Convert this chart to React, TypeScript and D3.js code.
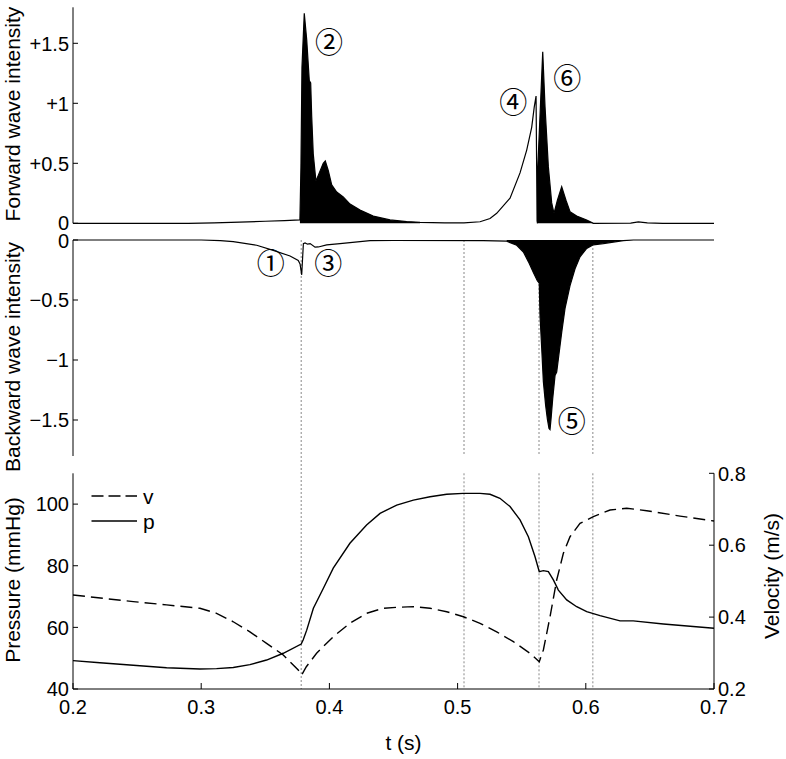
import React from 'react';
import * as d3 from 'd3';

// ---------- data ----------
const forwardWave: [number, number][] = [
  [0.2, 0], [0.29, 0], [0.31, 0.004], [0.33, 0.01], [0.35, 0.017], [0.365, 0.022], [0.377, 0.028],
  [0.3778, 0.47], [0.3786, 1.3], [0.3804, 1.75], [0.3823, 1.53], [0.3843, 1.19], [0.3854, 1.17],
  [0.3862, 0.89], [0.3874, 0.58], [0.3895, 0.35], [0.3921, 0.42], [0.3952, 0.5], [0.3968, 0.52],
  [0.3991, 0.44], [0.4018, 0.32], [0.4057, 0.26], [0.4108, 0.22], [0.4161, 0.16], [0.4239, 0.11],
  [0.4342, 0.06], [0.4473, 0.028], [0.4603, 0.014], [0.4707, 0.008], [0.49, 0.003], [0.505, 0.003],
  [0.5175, 0.013], [0.5253, 0.04], [0.5305, 0.083], [0.5409, 0.21], [0.5487, 0.42], [0.5539, 0.61],
  [0.5578, 0.8], [0.5598, 0.97], [0.5612, 1.06], [0.5620, 0.02], [0.5623, 0.0], [0.5625, 0.45],
  [0.5664, 1.43], [0.5682, 0.97], [0.5708, 0.47], [0.5734, 0.17], [0.5752, 0.083], [0.5778, 0.19],
  [0.5812, 0.305], [0.5846, 0.19], [0.5877, 0.097], [0.5929, 0.06], [0.6007, 0.028], [0.6059, 0.0],
  [0.635, 0.002], [0.641, 0.012], [0.648, 0.003], [0.66, 0], [0.7, 0],
];

const backwardWave: [number, number][] = [
  [0.2, 0], [0.3, 0], [0.315, -0.005], [0.325, -0.014], [0.3433, -0.044], [0.3562, -0.086],
  [0.3693, -0.133], [0.3757, -0.17], [0.3771, -0.2], [0.3784, -0.29], [0.3797, -0.03],
  [0.381, -0.025], [0.383, -0.035], [0.385, -0.03], [0.3888, -0.06], [0.3914, -0.058],
  [0.3979, -0.04], [0.4083, -0.03], [0.4317, -0.005], [0.45, -0.004], [0.52, -0.005],
  [0.5383, -0.01], [0.5461, -0.044], [0.5513, -0.1], [0.5552, -0.18], [0.5591, -0.27],
  [0.5622, -0.34], [0.5637, -0.36], [0.5643, -0.63], [0.5656, -0.9], [0.5669, -1.18],
  [0.5687, -1.38], [0.57, -1.49], [0.5713, -1.57], [0.5721, -1.58], [0.5729, -1.49],
  [0.5742, -1.32], [0.576, -1.13], [0.5773, -1.1], [0.5786, -0.99], [0.5812, -0.77],
  [0.5838, -0.57], [0.5877, -0.38], [0.5916, -0.24], [0.5955, -0.14], [0.6007, -0.07],
  [0.6059, -0.04], [0.6137, -0.03], [0.6215, -0.017], [0.6293, -0.005], [0.6371, 0], [0.7, 0],
];

const pressure: [number, number][] = [
  [0.2, 49.2], [0.221, 48.5], [0.247, 47.7], [0.273, 46.9], [0.299, 46.5], [0.312, 46.6],
  [0.325, 47.0], [0.338, 47.9], [0.351, 49.4], [0.364, 51.6], [0.378, 54.6], [0.3795, 55.9],
  [0.3823, 59.1], [0.3875, 66.2], [0.3953, 72.7], [0.403, 79.2], [0.416, 87.3], [0.429, 93.2],
  [0.4395, 97.0], [0.4525, 99.7], [0.4655, 101.3], [0.4785, 102.4], [0.4915, 103.2],
  [0.5045, 103.5], [0.5175, 103.5], [0.5253, 103.2], [0.533, 101.9], [0.5409, 99.2],
  [0.5487, 94.9], [0.5552, 89.4], [0.5604, 82.9], [0.5637, 78.1], [0.5669, 78.4], [0.5708, 78.1],
  [0.5747, 75.4], [0.5786, 72.1], [0.5851, 68.9], [0.5929, 66.7], [0.6007, 65.1], [0.6111, 63.8],
  [0.6267, 62.1], [0.637, 62.1], [0.6605, 61.1], [0.7, 59.7],
];

const velocity: [number, number][] = [
  [0.2, 0.4615], [0.247, 0.443], [0.273, 0.434], [0.299, 0.4245], [0.312, 0.4106], [0.325, 0.387],
  [0.338, 0.359], [0.351, 0.327], [0.364, 0.2946], [0.3757, 0.2528], [0.3784, 0.2389],
  [0.382, 0.262], [0.39, 0.2993], [0.403, 0.3455], [0.416, 0.3828], [0.429, 0.4106],
  [0.442, 0.4245], [0.4525, 0.4273], [0.4655, 0.429], [0.4785, 0.4245], [0.4915, 0.415],
  [0.5045, 0.401], [0.5175, 0.3828], [0.5305, 0.359], [0.5435, 0.3316], [0.5565, 0.2993],
  [0.5637, 0.276], [0.5669, 0.3085], [0.5721, 0.401], [0.5773, 0.5032], [0.5825, 0.5774],
  [0.5877, 0.6236], [0.5955, 0.6609], [0.6059, 0.6793], [0.6189, 0.6979], [0.6319, 0.7026],
  [0.6475, 0.696], [0.6735, 0.681], [0.7, 0.6673],
];

const forwardFills: [number, number][] = [[0.377, 0.48], [0.5623, 0.62]];
const backwardFills: [number, number][] = [[0.535, 0.64]];
const markerTimes = [0.378, 0.505, 0.5635, 0.6055];

const timeTicks = [0.2, 0.3, 0.4, 0.5, 0.6, 0.7];
const timeTickLabels = ['0.2', '0.3', '0.4', '0.5', '0.6', '0.7'];
const fwdTicks = [0, 0.5, 1, 1.5];
const fwdTickLabels = ['0', '+0.5', '+1', '+1.5'];
const bwdTicks = [0, -0.5, -1, -1.5];
const bwdTickLabels = ['0', '\u22120.5', '\u22121', '\u22121.5'];
const pTicks = [40, 60, 80, 100];
const vTicks = [0.2, 0.4, 0.6, 0.8];
const vTickLabels = ['0.2', '0.4', '0.6', '0.8'];

const fwdNotes = [
  { label: '\u2461', t: 0.3997, v: 1.5 },
  { label: '\u2463', t: 0.5435, v: 1.005 },
  { label: '\u2465', t: 0.5856, v: 1.2 },
];
const bwdNotes = [
  { label: '\u2460', t: 0.3542, v: -0.1975 },
  { label: '\u2462', t: 0.3991, v: -0.1975 },
  { label: '\u2464', t: 0.589, v: -1.517 },
];

const FONT = '"Liberation Sans", Arial, Helvetica, sans-serif';
const NOTE_FONT = '"DejaVu Serif", "Noto Sans CJK JP", serif';

export default function App() {
  const x = d3.scaleLinear().domain([0.2, 0.7]).range([73, 714]);
  const yF = d3.scaleLinear().domain([0, 1.8]).range([223.3, 7.3]);
  const yB = d3.scaleLinear().domain([-1.8, 0]).range([456, 240]);
  const yP = d3.scaleLinear().domain([40, 110]).range([689, 473.3]);
  const yV = d3.scaleLinear().domain([0.2, 0.8]).range([689, 473.3]);

  const lineOf = (ys: d3.ScaleLinear<number, number>) =>
    d3.line<[number, number]>().x((d) => x(d[0])).y((d) => ys(d[1]));
  const areaOf = (ys: d3.ScaleLinear<number, number>) =>
    d3.area<[number, number]>().x((d) => x(d[0])).y0(ys(0)).y1((d) => ys(d[1]));

  const fill = (data: [number, number][], [a, b]: [number, number]) =>
    data.filter((d) => d[0] >= a && d[0] <= b);

  const tickLen = 5;
  const fs = 20;
  const lfs = 21;
  const nfs = 28;

  return (
    <svg width={786} height={759} style={{ position: 'absolute', left: 0, top: 0, background: '#fff' }}
      fontFamily={FONT}>
      <rect x={0} y={0} width={786} height={759} fill="#fff" />

      {/* dotted marker lines */}
      <g stroke="#888" strokeWidth={1} strokeDasharray="2,2">
        <line x1={x(markerTimes[0])} x2={x(markerTimes[0])} y1={240} y2={689} />
        {markerTimes.slice(1).map((t, i) => (
          <g key={i}>
            <line x1={x(t)} x2={x(t)} y1={240} y2={456} />
            <line x1={x(t)} x2={x(t)} y1={473.3} y2={689} />
          </g>
        ))}
      </g>

      {/* ---- forward panel ---- */}
      {forwardFills.map((iv, i) => (
        <path key={i} d={areaOf(yF)(fill(forwardWave, iv)) || ''} fill="#000" />
      ))}
      <path d={lineOf(yF)(forwardWave) || ''} fill="none" stroke="#000" strokeWidth={1.2} />
      <line x1={73} x2={73} y1={yF(1.8)} y2={yF(0)} stroke="#000" strokeWidth={1} />
      {fwdTicks.map((v, i) => (
        <g key={i}>
          <line x1={73} x2={73 + tickLen} y1={yF(v)} y2={yF(v)} stroke="#000" />
          <text x={69} y={yF(v) - (v === 0 ? 1 : 0)} dy="0.36em" textAnchor="end" fontSize={fs}>{fwdTickLabels[i]}</text>
        </g>
      ))}
      <text transform={`translate(19.5,${114}) rotate(-90)`} textAnchor="middle" fontSize={lfs}>Forward wave intensity</text>
      {fwdNotes.map((n, i) => (
        <text key={i} x={x(n.t)} y={yF(n.v)} dy="0.36em" textAnchor="middle" fontSize={nfs} fontFamily={NOTE_FONT}>{n.label}</text>
      ))}

      {/* ---- backward panel ---- */}
      {backwardFills.map((iv, i) => (
        <path key={i} d={areaOf(yB)(fill(backwardWave, iv)) || ''} fill="#000" />
      ))}
      <path d={lineOf(yB)(backwardWave) || ''} fill="none" stroke="#000" strokeWidth={1.2} />
      <line x1={73} x2={73} y1={yB(0)} y2={yB(-1.8)} stroke="#000" strokeWidth={1} />
      {bwdTicks.map((v, i) => (
        <g key={i}>
          <line x1={73} x2={73 + tickLen} y1={yB(v)} y2={yB(v)} stroke="#000" />
          <text x={69} y={yB(v) + (v === 0 ? 1 : 0)} dy="0.36em" textAnchor="end" fontSize={fs}>{bwdTickLabels[i]}</text>
        </g>
      ))}
      <text transform={`translate(19.5,${357}) rotate(-90)`} textAnchor="middle" fontSize={lfs}>Backward wave intensity</text>
      {bwdNotes.map((n, i) => (
        <text key={i} x={x(n.t)} y={yB(n.v)} dy="0.36em" textAnchor="middle" fontSize={nfs} fontFamily={NOTE_FONT}>{n.label}</text>
      ))}

      {/* ---- pressure / velocity panel ---- */}
      <path d={lineOf(yV)(velocity) || ''} fill="none" stroke="#000" strokeWidth={1.4} strokeDasharray="12,6" />
      <path d={lineOf(yP)(pressure) || ''} fill="none" stroke="#000" strokeWidth={1.4} />
      <line x1={73} x2={73} y1={yP(110)} y2={yP(40)} stroke="#000" />
      <line x1={714} x2={714} y1={yV(0.8)} y2={yV(0.2)} stroke="#000" />
      <line x1={73} x2={714} y1={689} y2={689} stroke="#000" />
      {pTicks.map((v, i) => (
        <g key={i}>
          <line x1={73} x2={73 + tickLen} y1={yP(v)} y2={yP(v)} stroke="#000" />
          <text x={69} y={yP(v)} dy="0.36em" textAnchor="end" fontSize={fs}>{v}</text>
        </g>
      ))}
      {vTicks.map((v, i) => (
        <g key={i}>
          <line x1={714} x2={714 - tickLen} y1={yV(v)} y2={yV(v)} stroke="#000" />
          <text x={718} y={yV(v)} dy="0.36em" textAnchor="start" fontSize={fs}>{vTickLabels[i]}</text>
        </g>
      ))}
      {timeTicks.map((t, i) => (
        <g key={i}>
          <line x1={x(t)} x2={x(t)} y1={689} y2={689 - tickLen - 1} stroke="#000" />
          <text x={x(t)} y={714} textAnchor="middle" fontSize={fs}>{timeTickLabels[i]}</text>
        </g>
      ))}
      <text transform={`translate(19.5,${580}) rotate(-90)`} textAnchor="middle" fontSize={lfs}>Pressure (mmHg)</text>
      <text transform={`translate(779,${576}) rotate(-90)`} textAnchor="middle" fontSize={lfs}>Velocity (m/s)</text>
      <text x={403.5} y={750} textAnchor="middle" fontSize={lfs}>t (s)</text>

      {/* legend */}
      <line x1={91.5} x2={137} y1={496} y2={496} stroke="#000" strokeWidth={1.4} strokeDasharray="12,5" />
      <line x1={91.5} x2={137} y1={521} y2={521} stroke="#000" strokeWidth={1.4} />
      <text x={143} y={496} dy="0.36em" fontSize={lfs}>v</text>
      <text x={143} y={521} dy="0.36em" fontSize={lfs}>p</text>
    </svg>
  );
}
